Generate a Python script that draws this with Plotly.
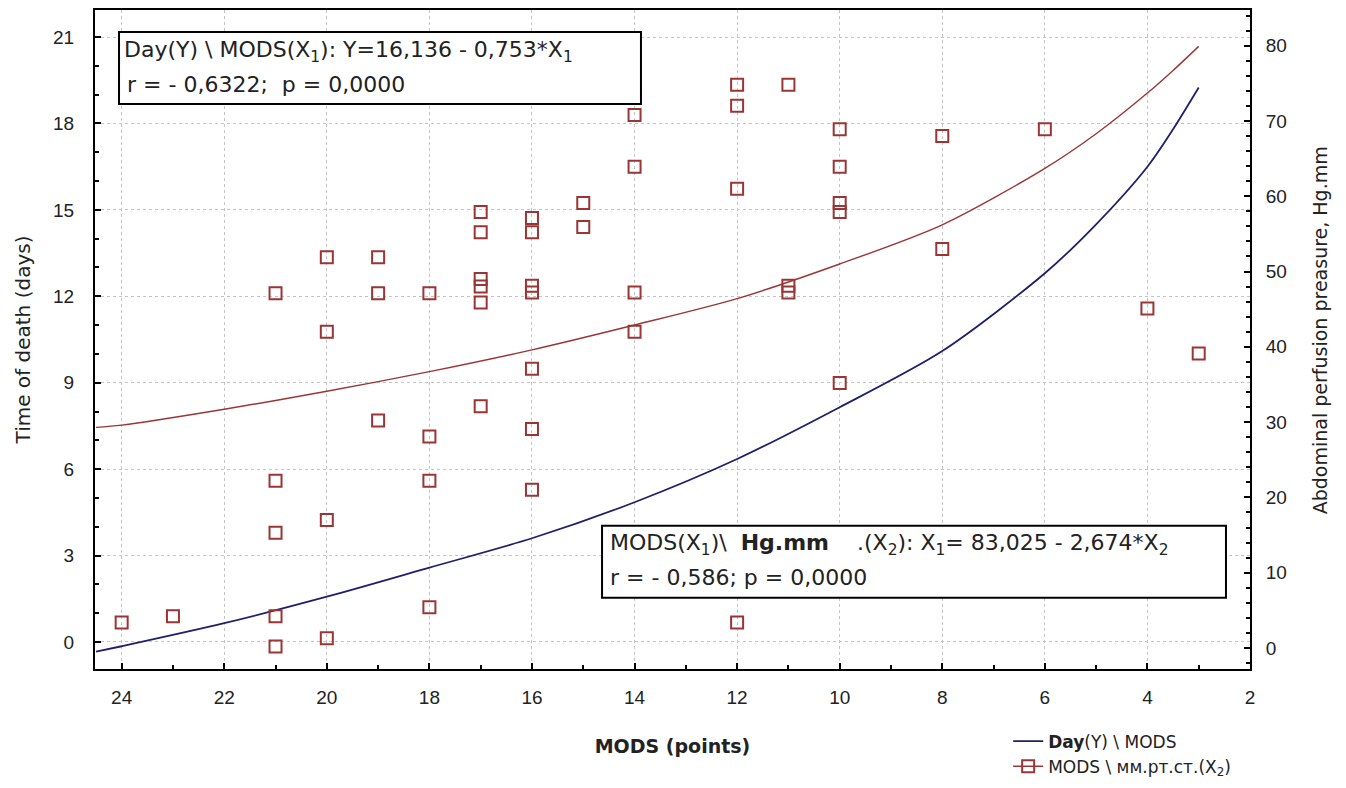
import plotly.graph_objects as go

# ---- data ----
mods_points = [24, 23,
               21, 21, 21, 21, 21,
               20, 20, 20, 20,
               19, 19, 19,
               18, 18, 18, 18,
               17, 17, 17, 17, 17, 17,
               16, 16, 16, 16, 16, 16, 16,
               15, 15,
               14, 14, 14, 14,
               12, 12, 12, 12,
               11, 11, 11,
               10, 10, 10, 10, 10,
               8, 8,
               6, 4, 3]
pressure_points = [3.4, 4.2,
                   47.1, 22.2, 15.3, 4.2, 0.2,
                   51.9, 42.0, 17.0, 1.3,
                   51.9, 47.1, 30.2,
                   47.1, 28.1, 22.2, 5.4,
                   57.9, 55.2, 49.0, 48.0, 45.9, 32.1,
                   57.1, 55.2, 48.1, 47.2, 37.1, 29.1, 21.0,
                   59.1, 55.9,
                   70.8, 63.9, 47.2, 42.0,
                   74.8, 72.0, 61.0, 3.4,
                   74.8, 48.1, 47.2,
                   68.9, 63.9, 59.1, 57.9, 35.2,
                   68.0, 53.0,
                   68.9, 45.1, 39.1]

curve_mods = [24.5, 24, 22, 20, 18, 16, 14, 12, 10, 8, 6, 5, 4, 3.5, 3]
day_fit = [-0.34, -0.15, 0.65, 1.57, 2.58, 3.6, 4.85, 6.35, 8.15, 10.1, 12.8, 14.5, 16.5, 17.8, 19.25]
pressure_fit = [29.3, 29.6, 31.7, 34.1, 36.7, 39.6, 42.9, 46.4, 51.0, 56.2, 63.7, 68.3, 73.7, 76.7, 79.9]

x_ticks = [24, 22, 20, 18, 16, 14, 12, 10, 8, 6, 4, 2]
y_ticks = [0, 3, 6, 9, 12, 15, 18, 21]
y2_ticks = [0, 10, 20, 30, 40, 50, 60, 70, 80]

BLUE = "#1f1f6b"
RED = "#9b3535"
TXT = "DejaVu Sans"
TICKF = dict(family="Liberation Sans, Arial", size=19, color="#222222")
GRID = "#c4c4c4"

# square markers as separate one-point segments so the legend shows line + marker
sq_x, sq_y = [], []
for xv, yv in zip(mods_points, pressure_points):
    sq_x += [xv, None]
    sq_y += [yv, None]

fig = go.Figure()
fig.add_trace(go.Scatter(
    x=curve_mods, y=day_fit, mode="lines", name="<b>Day</b>(Y) \\ MODS",
    line=dict(color=BLUE, width=1.8, shape="spline", smoothing=0.8),
))
fig.add_trace(go.Scatter(
    x=curve_mods, y=pressure_fit, yaxis="y2", mode="lines",
    name="MODS fit", showlegend=False,
    line=dict(color=RED, width=1.4, shape="spline", smoothing=0.8),
))
fig.add_trace(go.Scatter(
    x=sq_x, y=sq_y, yaxis="y2", mode="lines+markers", connectgaps=False,
    name="MODS \\ мм.рт.ст.(X<sub>2</sub>)",
    line=dict(color=RED, width=1.4),
    marker=dict(symbol="square-open", size=12, color=RED, line=dict(width=2, color=RED)),
))

axis_common = dict(showline=True, linecolor="black", linewidth=2, ticks="inside",
                   ticklen=6, tickwidth=1.5, tickcolor="black", tickfont=TICKF,
                   zeroline=False, automargin=True)

fig.update_layout(
    width=1330, height=772,
    margin=dict(l=87, r=88, t=2, b=111, autoexpand=False),
    paper_bgcolor="white", plot_bgcolor="white",
    font=dict(family=TXT, size=18, color="#222222"),
    xaxis=dict(**axis_common, range=[24.52, 2.0], tickvals=x_ticks, mirror=True,
               showgrid=True, gridcolor=GRID, griddash="dot", gridwidth=1,
               minor=dict(dtick=1, tick0=0, ticks="inside", ticklen=4, tickcolor="black", showgrid=False),
               ticklabelstandoff=10,
               title=dict(text="<b>MODS (points)</b>", font=dict(family=TXT, size=19), standoff=33)),
    yaxis=dict(**axis_common, range=[-0.94, 21.94], tickvals=y_ticks,
               showgrid=True, gridcolor=GRID, griddash="dot", gridwidth=1,
               minor=dict(dtick=1, tick0=0, ticks="inside", ticklen=4, tickcolor="black", showgrid=False),
               ticklabelstandoff=15,
               title=dict(text="Time of death (days)", font=dict(family=TXT, size=20), standoff=17)),
    yaxis2=dict(**axis_common, overlaying="y", side="right", range=[-2.79, 84.73],
                tickvals=y2_ticks, showgrid=False,
                minor=dict(dtick=2, tick0=0, ticks="inside", ticklen=4, tickcolor="black", showgrid=False),
                ticklabelstandoff=10),
    legend=dict(xref="container", yref="container", x=0.752, y=0.073,
                xanchor="left", yanchor="top", bgcolor="rgba(0,0,0,0)",
                font=dict(family=TXT, size=17), tracegroupgap=0, itemwidth=30),
)

# right axis title (placed as rotated text beside the secondary axis)
fig.add_annotation(xref="paper", yref="paper", x=1.0606, y=0.514, xanchor="center", yanchor="middle",
                   textangle=-90, showarrow=False,
                   text="Abdominal perfusion preasure, Hg.mm",
                   font=dict(family=TXT, size=19, color="#222222"))

# annotation boxes (paper coordinates)
box_style = dict(type="rect", xref="paper", yref="paper", line=dict(color="black", width=2),
                 fillcolor="white", layer="above")
fig.add_shape(x0=0.0208, x1=0.4727, y0=0.8574, y1=0.9666, **box_style)
fig.add_shape(x0=0.439, x1=0.9792, y0=0.1082, y1=0.2175, **box_style)

ann = dict(xref="paper", yref="paper", xanchor="left", yanchor="middle", showarrow=False,
           font=dict(family=TXT, size=22, color="#222222"))
fig.add_annotation(x=0.0234, y=0.9363, text="Day(Y) \\ MODS(X<sub>1</sub>): Y=16,136 - 0,753*X<sub>1</sub>", **ann)
fig.add_annotation(x=0.026, y=0.8862, text="r = - 0,6322;  p = 0,0000", **ann)
fig.add_annotation(x=0.4442, y=0.1882,
                   text="MODS(X<sub>1</sub>)\\  <b>Hg.mm</b>    .(X<sub>2</sub>): X<sub>1</sub>= 83,025 - 2,674*X<sub>2</sub>", **ann)
fig.add_annotation(x=0.4442, y=0.1381, text="r = - 0,586; p = 0,0000", **ann)

fig.write_html("out.html")
